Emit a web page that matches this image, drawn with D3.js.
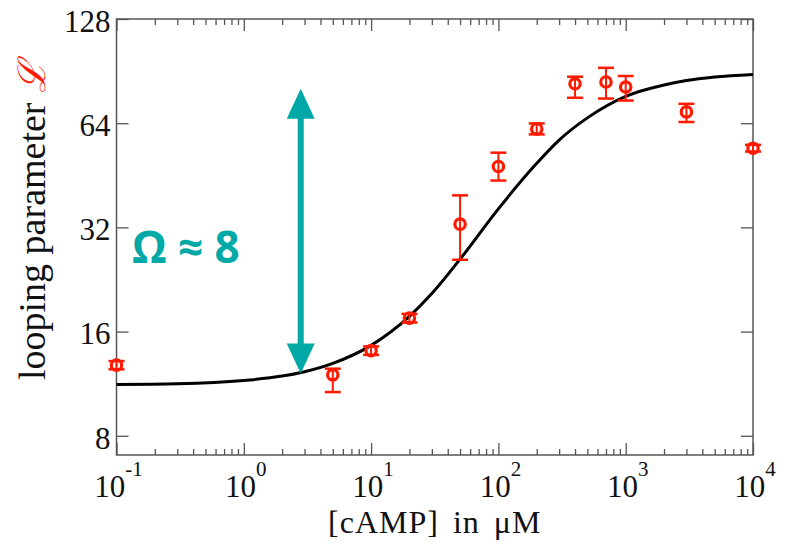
<!DOCTYPE html>
<html lang="en">
<head>
  <meta charset="UTF-8">
  <title>Looping parameter vs cAMP</title>
  <style>
    body { margin: 0; background: #fff; }
    #chart { width: 799px; height: 544px; }
    .tick line { stroke: #555; stroke-width: 1.3; }
  </style>
  <script src="https://d3js.org/d3.v7.min.js"></script>
</head>
<body>
<div id="chart"></div>
<script>
  // measured points: cAMP (uM), looping parameter, error bar low/high
  var camp = [0.1, 5, 10, 20, 50, 100, 200, 400, 700, 1000, 3000, 10000];
  var loop = [12.8, 12.0, 14.1, 17.5, 32.7, 48.0, 61.6, 83.2, 84.2, 81.4, 69.0, 54.2];
  var errLow = [12.45, 10.7, 13.7, 17.0, 25.8, 43.7, 59.4, 75.8, 75.4, 74.4, 64.5, 53.0];
  var errHigh = [13.15, 12.5, 14.5, 18.0, 39.6, 52.6, 63.9, 87.2, 92.5, 87.6, 72.8, 55.4];

  // fitted curve
  var fitX = [0.1, 0.3, 1, 2, 3, 5, 10, 20, 30, 50, 100, 200, 300, 500, 1000, 2000, 3000, 5000, 10000];
  var fitL = [11.25, 11.3, 11.55, 11.9, 12.25, 12.95, 14.6, 17.7, 20.6, 25.9, 36.2, 49.0, 57.2, 66.3, 76.5, 82.5, 85.0, 87.0, 88.5];

  // tick values
  var xMajor = [0.1, 1, 10, 100, 1000, 10000];
  var xExp = ["-1", "0", "1", "2", "3", "4"];
  var yMajor = [8, 16, 32, 64, 128];

  // arrow annotation
  var arrowX = 2.8;
  var arrowLow = 12.1;
  var arrowHigh = 80.5;
  var omegaText = "\u03A9 \u2248 8";

  var width = 799, height = 544;
  // plot box (note: "top" is taken by window.top)
  var pL = 116.5, pR = 753, pT = 19, pB = 455;
  var red = "#ff1a00", teal = "#00a9a6";
  var serif = "'Liberation Serif', 'Times New Roman', serif";

  var xScale = d3.scaleLog().domain([0.1, 10000]).range([pL, pR]);
  var yScale = d3.scaleLog().base(2).domain([7.04, 128]).range([pB, pT]);

  var svg = d3.select("#chart").append("svg")
      .attr("width", width)
      .attr("height", height);

  // minor x ticks
  var xMinor = [];
  for (var e = -1; e < 4; e++) {
    for (var m = 2; m < 10; m++) xMinor.push(m * Math.pow(10, e));
  }

  function noLabel() { return ""; }

  svg.append("g").attr("transform", "translate(0," + pB + ")")
      .call(d3.axisBottom(xScale).tickValues(xMajor).tickSize(-12).tickFormat(noLabel));
  svg.append("g").attr("transform", "translate(0," + pB + ")")
      .call(d3.axisBottom(xScale).tickValues(xMinor).tickSize(-6).tickFormat(noLabel));
  svg.append("g").attr("transform", "translate(0," + pT + ")")
      .call(d3.axisTop(xScale).tickValues(xMajor).tickSize(-12).tickFormat(noLabel));
  svg.append("g").attr("transform", "translate(0," + pT + ")")
      .call(d3.axisTop(xScale).tickValues(xMinor).tickSize(-6).tickFormat(noLabel));

  var yAxis = svg.append("g").attr("transform", "translate(" + pL + ",0)")
      .call(d3.axisLeft(yScale).tickValues(yMajor).tickSize(-12).tickPadding(6)
          .tickFormat(d3.format("d")));
  yAxis.selectAll("text")
      .attr("font-family", serif)
      .attr("font-size", 31)
      .attr("fill", "#111")
      .attr("dy", "0.4em");
  svg.append("g").attr("transform", "translate(" + pR + ",0)")
      .call(d3.axisRight(yScale).tickValues(yMajor).tickSize(-12).tickFormat(noLabel));

  svg.selectAll(".domain").remove();

  // frame
  svg.append("rect")
      .attr("x", pL)
      .attr("y", pT)
      .attr("width", pR - pL)
      .attr("height", pB - pT)
      .attr("fill", "none")
      .attr("stroke", "#555")
      .attr("stroke-width", 1.5);

  // x tick labels as 10^n
  var xl = svg.append("g")
      .attr("font-family", serif)
      .attr("fill", "#111");
  xMajor.forEach(function(v, i) {
    var t = xl.append("text")
        .attr("x", xScale(v) + 2)
        .attr("y", pB + 42)
        .attr("text-anchor", "middle")
        .attr("font-size", 31);
    t.append("tspan").text("10");
    t.append("tspan").attr("dy", -21).attr("font-size", 21).text(xExp[i]);
  });

  // axis titles
  svg.append("text")
      .attr("x", (pL + pR) / 2)
      .attr("y", 533)
      .attr("text-anchor", "middle")
      .attr("font-family", serif)
      .attr("font-size", 32)
      .attr("letter-spacing", 1)
      .attr("word-spacing", 5)
      .attr("fill", "#111")
      .text("[cAMP] in \u03BCM");

  var yTitle = svg.append("text")
      .attr("transform", "translate(45,380) rotate(-90)")
      .attr("font-family", serif)
      .attr("font-size", 38)
      .attr("fill", "#111");
  yTitle.append("tspan").text("looping parameter ");
  yTitle.append("tspan")
      .attr("fill", red)
      .attr("font-style", "italic")
      .text("\u2112");

  // fitted curve
  var fitData = fitX.map(function(x, i) { return { x: x, y: fitL[i] }; });
  svg.append("path")
      .datum(fitData)
      .attr("fill", "none")
      .attr("stroke", "#000")
      .attr("stroke-width", 3)
      .attr("d", d3.line()
          .x(function(d) { return xScale(d.x); })
          .y(function(d) { return yScale(d.y); })
          .curve(d3.curveMonotoneX));

  // data points with error bars
  var pts = camp.map(function(x, i) {
    return { x: x, y: loop[i], lo: errLow[i], hi: errHigh[i] };
  });
  var g = svg.append("g").attr("stroke", red).attr("fill", "none");
  var capW = 8;
  var pt = g.selectAll("g").data(pts).join("g");
  pt.append("line")
      .attr("x1", function(d) { return xScale(d.x); })
      .attr("x2", function(d) { return xScale(d.x); })
      .attr("y1", function(d) { return yScale(d.lo); })
      .attr("y2", function(d) { return yScale(d.hi); })
      .attr("stroke-width", 2);
  ["lo", "hi"].forEach(function(k) {
    pt.append("line")
        .attr("x1", function(d) { return xScale(d.x) - capW; })
        .attr("x2", function(d) { return xScale(d.x) + capW; })
        .attr("y1", function(d) { return yScale(d[k]); })
        .attr("y2", function(d) { return yScale(d[k]); })
        .attr("stroke-width", 2.5);
  });
  pt.append("circle")
      .attr("cx", function(d) { return xScale(d.x); })
      .attr("cy", function(d) { return yScale(d.y); })
      .attr("r", 5.2)
      .attr("stroke-width", 3.2);

  // double-headed arrow
  var ax = xScale(arrowX);
  var yHi = yScale(arrowHigh), yLo = yScale(arrowLow);
  var headL = 30, headW = 14;
  svg.append("line")
      .attr("x1", ax).attr("x2", ax)
      .attr("y1", yHi + headL - 1).attr("y2", yLo - headL + 1)
      .attr("stroke", teal)
      .attr("stroke-width", 6);
  svg.append("path")
      .attr("fill", teal)
      .attr("d", "M" + ax + "," + yHi + "L" + (ax + headW) + "," + (yHi + headL) +
          "L" + (ax - headW) + "," + (yHi + headL) + "Z");
  svg.append("path")
      .attr("fill", teal)
      .attr("d", "M" + ax + "," + yLo + "L" + (ax + headW) + "," + (yLo - headL) +
          "L" + (ax - headW) + "," + (yLo - headL) + "Z");

  svg.append("text")
      .attr("x", 132)
      .attr("y", 263)
      .attr("font-family", "'Open Sans', 'Noto Sans', sans-serif")
      .attr("font-weight", "bold")
      .attr("font-size", 44)
      .attr("fill", teal)
      .text(omegaText);
</script>
</body>
</html>
